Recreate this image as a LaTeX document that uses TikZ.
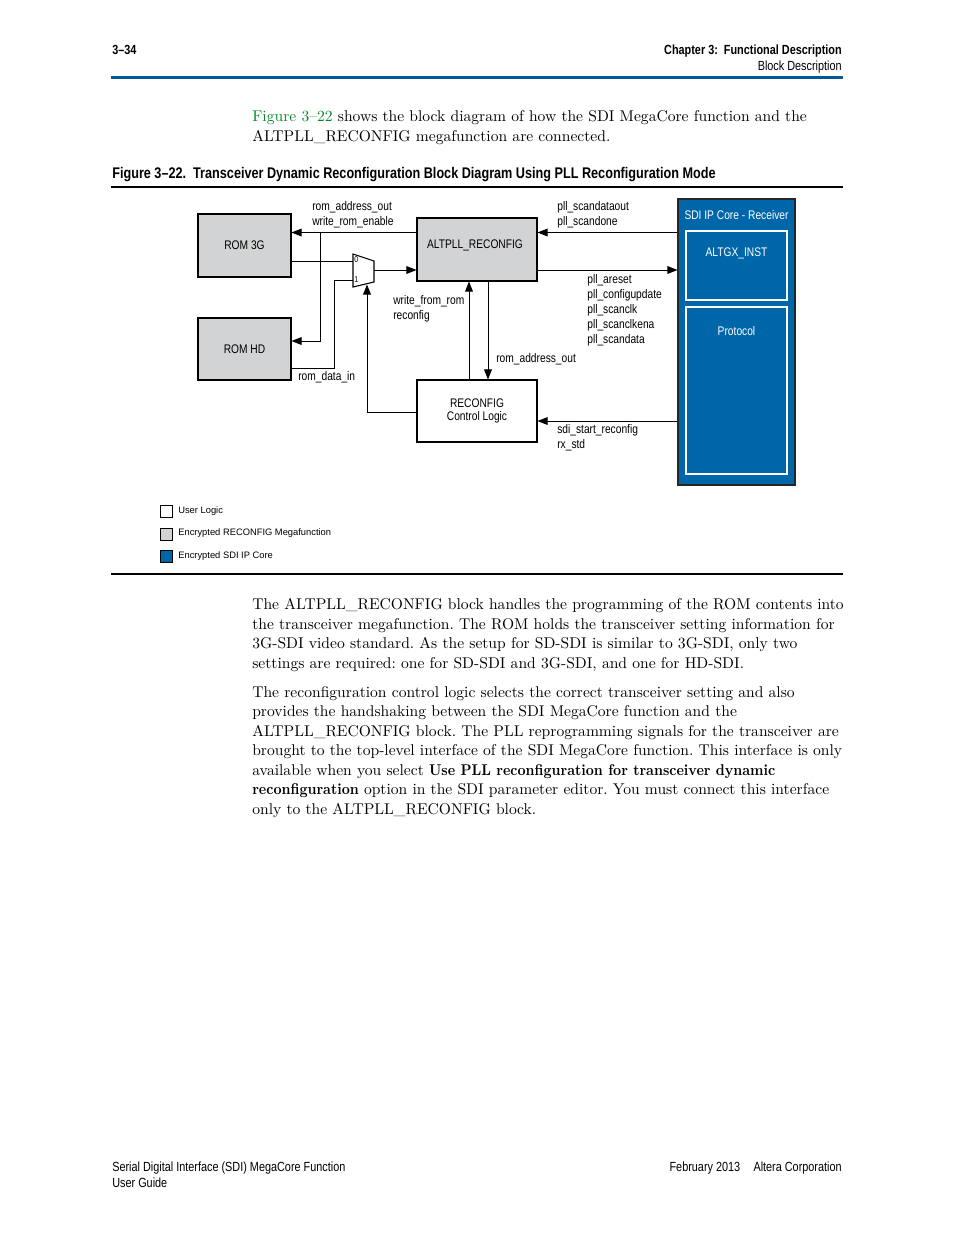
\documentclass[tikz,border=0pt]{standalone}
\usepackage{fontspec}
\usetikzlibrary{arrows.meta}
\newfontfamily\cond[FakeStretch=0.82]{Liberation Sans}
\newfontfamily\legf{Liberation Sans}
\newfontface\bbold{lmroman10-bold.otf}[FakeStretch=0.9]
\definecolor{sdiblue}{RGB}{0,102,170}
\definecolor{rulblue}{RGB}{0,88,150}
\definecolor{boxgray}{RGB}{210,211,213}
\definecolor{linkgreen}{RGB}{0,135,40}
\def\u{0.6415pt}
\newcommand\lab{\cond\fontsize{8}{9.6}\selectfont}
\newcommand\bodyf{\frenchspacing\fontsize{10}{12}\selectfont}
\begin{document}
\begin{tikzpicture}[x=0.6415pt,y=-0.6415pt,
  box/.style={draw=black,line width=0.7pt,rectangle,inner sep=0pt,font=\lab,align=center},
  gbox/.style={box,fill=boxgray},
  conn/.style={line width=0.6pt},
  arr/.style={conn,-{Triangle[length=6.5pt,width=5pt]}},
  lbl/.style={anchor=west,inner sep=0pt,font=\lab,align=left},
  leg/.style={anchor=west,inner sep=0pt,font=\legf\fontsize{6}{7}\selectfont},
  bl/.style={anchor=base west,inner sep=0pt,font=\bodyf},
  hd/.style={inner sep=0pt,font=\cond\fontsize{8.5}{10}\selectfont},
  hdb/.style={inner sep=0pt,font=\cond\bfseries\fontsize{8.5}{10}\selectfont}]
\useasboundingbox (0,0) rectangle (954,1235);
% header
\node[hdb,anchor=base west] (pg) at (112,54) {3–34};
\node[hdb,anchor=base east] (ch) at (842,54) {Chapter 3:\ \ Functional Description};
\node[hd,anchor=base east] (bd) at (842,70) {Block Description};
\draw[rulblue,line width=1.4pt] (111,77.5) -- (843,77.5);
% intro text
\node[bl] (t1) at (252,121.5) {\textcolor{linkgreen}{Figure 3--22} shows the block diagram of how the SDI MegaCore function and the};
\node[bl] (t2) at (252,141) {ALTPLL\_RECONFIG megafunction are connected.};
% caption
\node[anchor=base west,inner sep=0pt,font=\cond\bfseries\fontsize{9.9}{11}\selectfont] (cap) at (112,178.5) {Figure 3–22.\ \ Transceiver Dynamic Reconfiguration Block Diagram Using PLL Reconfiguration Mode};
\draw[line width=0.7pt] (111,187) -- (843,187);
% blocks
\node[gbox,minimum width={93*\u},minimum height={63*\u}] (rom3g) at (244.5,245.5) {ROM 3G};
\node[gbox,minimum width={93*\u},minimum height={62*\u}] (romhd) at (244.5,349) {ROM HD};
\node[gbox,minimum width={120*\u},minimum height={63*\u}] (alt) at (477,249.5) {};
\node[lbl,anchor=center] (altl) at (475,245) {ALTPLL\_RECONFIG};
\node[box,minimum width={120*\u},minimum height={62*\u}] (rc) at (477,411) {RECONFIG\\[-1pt]Control Logic};
\node[box,fill=sdiblue,draw=black!85,minimum width={117*\u},minimum height={286*\u}] (sdi) at (736.5,342) {};
\node[lbl,anchor=center,text=white] (sdil) at (736.5,215) {SDI IP Core - Receiver};
\node[box,draw=white,minimum width={101*\u},minimum height={69*\u}] (gx) at (736.5,265.5) {};
\node[lbl,anchor=center,text=white] (gxl) at (736.5,253) {ALTGX\_INST};
\node[box,draw=white,minimum width={101*\u},minimum height={167*\u}] (pr) at (736.5,390.5) {};
\node[lbl,anchor=center,text=white] (prl) at (736.5,331) {Protocol};
% mux
\draw[line width=0.7pt] (353,254) -- (374,261) -- (374,282) -- (353,287) -- cycle;
\node[inner sep=0pt,font=\cond\fontsize{5.5}{6}\selectfont,anchor=west] (m0) at (354,260) {0};
\node[inner sep=0pt,font=\cond\fontsize{5.5}{6}\selectfont,anchor=west] (m1) at (354,280) {1};
\coordinate (mux0) at (353,261);
\coordinate (mux1) at (353,280);
\coordinate (muxo) at (374,270);
\coordinate (muxs) at (367,284.5);
% helper coordinates
\coordinate (h232) at (0,232.5);
\coordinate (h261) at (0,261);
\coordinate (h270) at (0,270);
\coordinate (h341) at (0,341);
\coordinate (h368) at (0,368);
\coordinate (h412) at (0,412);
\coordinate (h421) at (0,421);
\coordinate (v469) at (469,0);
\coordinate (v488) at (488,0);
\coordinate (br) at (320,232.5);
\coordinate (brd) at (320,341);
\coordinate (dup) at (334,280);
% connectors
\draw[arr] (alt.west |- h232) -- (rom3g.east |- h232);
\draw[arr] (br) -- (brd) -- (romhd.east |- h341);
\draw[conn] (rom3g.east |- h261) -- (mux0);
\draw[conn] (romhd.east |- h368) -| (dup) -- (mux1);
\draw[arr] (muxo) -- (alt.west |- h270);
\draw[arr] (rc.west |- h412) -| (muxs);
\draw[arr] (rc.north -| v469) -- (alt.south -| v469);
\draw[arr] (alt.south -| v488) -- (rc.north -| v488);
\draw[arr] (sdi.west |- h232) -- (alt.east |- h232);
\draw[arr] (alt.east |- h270) -- (sdi.west |- h270);
\draw[arr] (sdi.west |- h421) -- (rc.east |- h421);
% labels
\node[lbl] (l1) at (312,207) {rom\_address\_out};
\node[lbl] (l2) at (312,222) {write\_rom\_enable};
\node[lbl] (l3) at (298,377) {rom\_data\_in};
\node[lbl] (l4) at (393,301) {write\_from\_rom};
\node[lbl] (l5) at (393,316) {reconfig};
\node[lbl] (l6) at (496,359) {rom\_address\_out};
\node[lbl] (l7) at (557,207) {pll\_scandataout};
\node[lbl] (l8) at (557,222) {pll\_scandone};
\node[lbl] (l9) at (587,280) {pll\_areset};
\node[lbl] (l10) at (587,295) {pll\_configupdate};
\node[lbl] (l11) at (587,310) {pll\_scanclk};
\node[lbl] (l12) at (587,325) {pll\_scanclkena};
\node[lbl] (l13) at (587,340) {pll\_scandata};
\node[lbl] (l14) at (557,430) {sdi\_start\_reconfig};
\node[lbl] (l15) at (557,445) {rx\_std};
% legend
\node[box,line width=0.6pt,minimum width={12*\u},minimum height={12*\u}] (lg1) at (166,511) {};
\node[box,line width=0.6pt,fill=boxgray,minimum width={12*\u},minimum height={12*\u}] (lg2) at (166,534) {};
\node[box,line width=0.6pt,fill=sdiblue,minimum width={12*\u},minimum height={12*\u}] (lg3) at (166,556) {};
\node[leg] (lt1) at (178,511) {User Logic};
\node[leg] (lt2) at (178,533.5) {Encrypted RECONFIG Megafunction};
\node[leg] (lt3) at (178,556) {Encrypted SDI IP Core};
\draw[line width=0.7pt] (111,574) -- (843,574);
% body text
\node[bl] (p1) at (252,609.5) {The ALTPLL\_RECONFIG block handles the programming of the ROM contents into};
\node[bl] (p2) at (252,629) {the transceiver megafunction. The ROM holds the transceiver setting information for};
\node[bl] (p3) at (252,648.5) {3G-SDI video standard. As the setup for SD-SDI is similar to 3G-SDI, only two};
\node[bl] (p4) at (252,668) {settings are required: one for SD-SDI and 3G-SDI, and one for HD-SDI.};
\node[bl] (q1) at (252,697) {The reconfiguration control logic selects the correct transceiver setting and also};
\node[bl] (q2) at (252,716.5) {provides the handshaking between the SDI MegaCore function and the};
\node[bl] (q3) at (252,736) {ALTPLL\_RECONFIG block. The PLL reprogramming signals for the transceiver are};
\node[bl] (q4) at (252,755.5) {brought to the top-level interface of the SDI MegaCore function. This interface is only};
\node[bl] (q5) at (252,775) {available when you select {\bbold Use PLL reconfiguration for transceiver dynamic}};
\node[bl] (q6) at (252,794.5) {{\bbold reconfiguration} option in the SDI parameter editor. You must connect this interface};
\node[bl] (q7) at (252,814) {only to the ALTPLL\_RECONFIG block.};
% footer
\node[hd,anchor=base west] (f1) at (112,1171) {Serial Digital Interface (SDI) MegaCore Function};
\node[hd,anchor=base west] (f2) at (112,1187) {User Guide};
\node[hd,anchor=base east] (f3) at (842,1171) {February 2013\quad Altera Corporation};
\end{tikzpicture}
\end{document}
